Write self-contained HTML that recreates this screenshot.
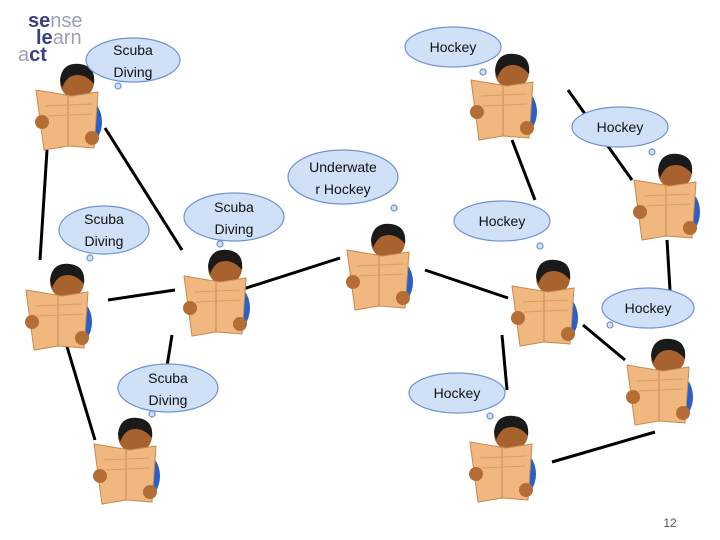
<!DOCTYPE html>
<html><head><style>
html,body{margin:0;padding:0;background:#fff;}
svg{display:block;}
text{font-family:"Liberation Sans",sans-serif;}
.b{font-family:"Liberation Sans",sans-serif;font-size:14px;fill:#111;text-anchor:middle;}
</style></head><body>
<svg width="720" height="540" viewBox="0 0 720 540">
<defs>
<g id="p">
 <ellipse cx="52" cy="60" rx="18" ry="24" fill="#2a5fc8"/>
 <circle cx="45" cy="20" r="17" fill="#a8622e"/>
 <path d="M28,18 Q30,0 48,2 Q64,4 62,22 Q52,10 40,14 Q34,16 30,26Z" fill="#1a1a1a"/>
 <path d="M4,28 L40,34 L66,30 L62,86 L36,84 L12,88Z" fill="#f0b77e" stroke="#c78a52" stroke-width="1"/>
 <path d="M36,34 L36,84" stroke="#c78a52"/>
 <path d="M14,44 L60,42 M16,54 L60,52" stroke="#d99b60"/>
 <circle cx="10" cy="60" r="7" fill="#b56d36"/>
 <circle cx="60" cy="76" r="7" fill="#b56d36"/>
</g>
<g id="c">
 <ellipse cx="0" cy="0" rx="46" ry="22" fill="#cfe0f7" stroke="#6f94cf" stroke-width="1.2"/>
</g>
</defs>
<g stroke="#000" stroke-width="3" fill="none">
<line x1="47" y1="150" x2="40" y2="260"/>
<line x1="105" y1="128" x2="182" y2="250"/>
<line x1="108" y1="300" x2="175" y2="290"/>
<line x1="65" y1="340" x2="95" y2="440"/>
<line x1="240" y1="290" x2="340" y2="258"/>
<line x1="425" y1="270" x2="508" y2="298"/>
<line x1="512" y1="140" x2="535" y2="200"/>
<line x1="568" y1="90" x2="632" y2="180"/>
<line x1="667" y1="240" x2="670" y2="290"/>
<line x1="583" y1="325" x2="625" y2="360"/>
<line x1="502" y1="335" x2="507" y2="390"/>
<line x1="552" y1="462" x2="655" y2="432"/>
<line x1="172" y1="335" x2="160" y2="410"/>
</g>
<use href="#p" x="32" y="62"/>
<use href="#p" x="467" y="52"/>
<use href="#p" x="630" y="152"/>
<use href="#p" x="343" y="222"/>
<use href="#p" x="22" y="262"/>
<use href="#p" x="180" y="248"/>
<use href="#p" x="508" y="258"/>
<use href="#p" x="623" y="337"/>
<use href="#p" x="90" y="416"/>
<use href="#p" x="466" y="414"/>
<g fill="#cfe0f7" stroke="#6f94cf" stroke-width="1.2">
<ellipse cx="133" cy="60" rx="47" ry="22"/><circle cx="118" cy="86" r="3"/>
<ellipse cx="453" cy="47" rx="48" ry="20"/><circle cx="483" cy="72" r="3"/>
<ellipse cx="620" cy="127" rx="48" ry="20"/><circle cx="652" cy="152" r="3"/>
<ellipse cx="343" cy="177" rx="55" ry="27"/><circle cx="394" cy="208" r="3"/>
<ellipse cx="104" cy="230" rx="45" ry="24"/><circle cx="90" cy="258" r="3"/>
<ellipse cx="234" cy="217" rx="50" ry="24"/><circle cx="220" cy="244" r="3"/>
<ellipse cx="502" cy="221" rx="48" ry="20"/><circle cx="540" cy="246" r="3"/>
<ellipse cx="648" cy="308" rx="46" ry="20"/><circle cx="610" cy="325" r="3"/>
<ellipse cx="168" cy="388" rx="50" ry="24"/><circle cx="152" cy="414" r="3"/>
<ellipse cx="457" cy="393" rx="48" ry="20"/><circle cx="490" cy="416" r="3"/>
</g>
<text class="b" x="133" y="55">Scuba</text><text class="b" x="133" y="77">Diving</text>
<text class="b" x="453" y="52">Hockey</text>
<text class="b" x="620" y="132">Hockey</text>
<text class="b" x="343" y="172">Underwate</text><text class="b" x="343" y="194">r Hockey</text>
<text class="b" x="104" y="224">Scuba</text><text class="b" x="104" y="246">Diving</text>
<text class="b" x="234" y="212">Scuba</text><text class="b" x="234" y="234">Diving</text>
<text class="b" x="502" y="226">Hockey</text>
<text class="b" x="648" y="313">Hockey</text>
<text class="b" x="168" y="383">Scuba</text><text class="b" x="168" y="405">Diving</text>
<text class="b" x="457" y="398">Hockey</text>
<text x="28" y="27" font-size="20" font-weight="bold" fill="#3a3f86">se<tspan fill="#9aa0b8" font-weight="normal">nse</tspan></text>
<text x="36" y="44" font-size="20" font-weight="bold" fill="#3a3f86">le<tspan fill="#9aa0b8" font-weight="normal">arn</tspan></text>
<text x="18" y="61" font-size="20" fill="#9aa0b8">a<tspan fill="#3a3f86" font-weight="bold">ct</tspan></text>
<text x="670" y="527" font-size="12" fill="#555" text-anchor="middle">12</text>
</svg>
</body></html>
